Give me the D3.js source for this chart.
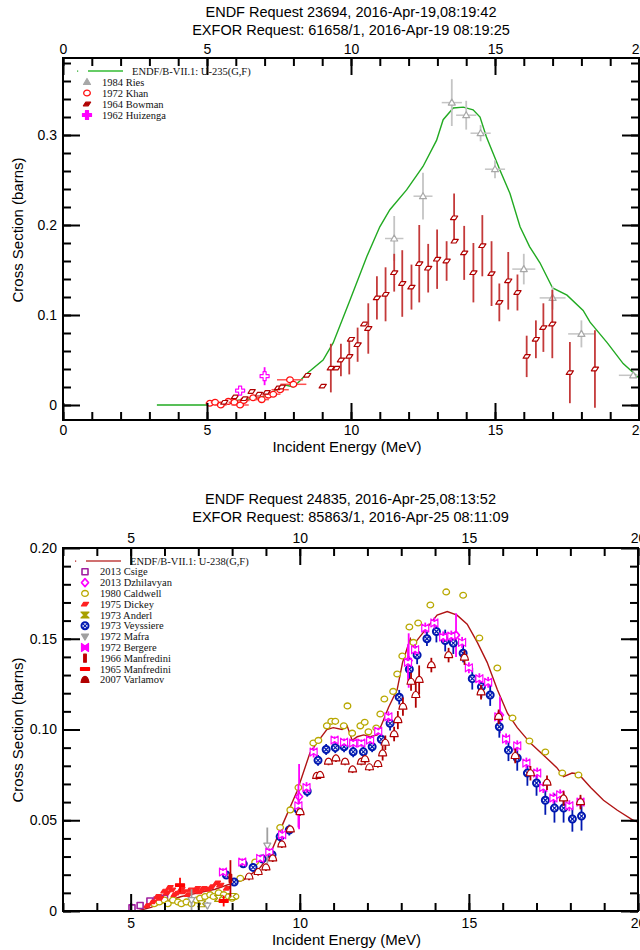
<!DOCTYPE html>
<html>
<head>
<meta charset="utf-8">
<script src="https://cdn.jsdelivr.net/npm/d3@7"></script>
<style>body{margin:0;background:#fff}</style>
</head>
<body>
<svg width="640" height="950"></svg>
<script>
// ---------- U-235 panel data ----------
const u235E = [3.26, 4.0, 5.0, 5.5, 6.15, 6.84, 7.2, 7.5, 7.75, 8.0, 8.23, 8.47, 9.03, 9.38, 9.97, 10.55, 11.0, 11.35, 11.93, 12.5, 12.97, 13.2, 13.55, 13.9, 14.24, 14.48, 14.7, 15.17, 15.52, 15.87, 16.2, 16.56, 17.0, 17.5, 18.06, 18.3, 18.9, 19.45, 19.9, 20];
const u235S = [0, 0, 0, 0.002, 0.0055, 0.008, 0.013, 0.019, 0.022, 0.02, 0.027, 0.035, 0.05, 0.069, 0.117, 0.165, 0.198, 0.217, 0.239, 0.265, 0.294, 0.317, 0.33, 0.331, 0.328, 0.32, 0.298, 0.261, 0.235, 0.198, 0.176, 0.158, 0.13, 0.122, 0.105, 0.092, 0.069, 0.046, 0.033, 0.03];

const riesE = [11.5, 12.5, 13.5, 14.0, 14.5, 15.0, 16.0, 17.0, 18.0, 19.8];
const riesS = [0.185, 0.232, 0.336, 0.322, 0.302, 0.262, 0.151, 0.119, 0.079, 0.033];
const riesErr = [0.025, 0.026, 0.026, 0.016, 0.009, 0.01, 0.017, 0.013, 0.015, 0.002];
const riesXErr = [0.32, 0.33, 0.35, 0.35, 0.35, 0.35, 0.4, 0.45, 0.46, 0.5];

const khanE = [5.1, 5.28, 5.48, 5.74, 5.95, 6.15, 6.28, 6.6, 6.9, 7.13, 7.3, 7.54, 7.88, 8.0];
const khanS = [0.002, 0.003, 0.0, 0.004, 0.003, 0.0, 0.005, 0.008, 0.006, 0.011, 0.012, 0.017, 0.028, 0.023];
const khanXErr = [0.15, 0.15, 0.2, 0.2, 0.2, 0.3, 0.2, 0.2, 0.25, 0.2, 0.25, 0.3, 0.45, 0.45];

const bowmanE = [5.6, 5.97, 6.3, 6.55, 6.8, 7.07, 7.47, 7.6, 8.48, 9.02, 9.3, 9.5, 9.65, 9.94, 10.0, 10.23, 10.46, 10.6, 10.9, 11.2, 11.5, 11.78, 12.1, 12.37, 12.68, 12.99, 13.32, 13.58, 13.6, 13.93, 14.25, 14.56, 14.88, 15.15, 15.46, 15.78, 16.1, 16.42, 16.68, 16.99, 17.6, 18.47];
const bowmanS = [0.003, 0.009, 0.007, 0.015, 0.012, 0.014, 0.019, 0.02, 0.033, 0.021, 0.041, 0.041, 0.05, 0.054, 0.073, 0.067, 0.09, 0.085, 0.119, 0.123, 0.147, 0.135, 0.131, 0.157, 0.152, 0.162, 0.160, 0.208, 0.182, 0.169, 0.147, 0.177, 0.146, 0.114, 0.138, 0.125, 0.054, 0.073, 0.086, 0.09, 0.036, 0.04];
const bowmanErr = [0, 0, 0, 0, 0, 0, 0, 0, 0, 0, 0.027, 0, 0.018, 0.02, 0, 0.019, 0, 0.028, 0.024, 0.03, 0.021, 0.037, 0.025, 0.043, 0.027, 0.033, 0.022, 0.027, 0, 0.03, 0.033, 0.034, 0.036, 0.021, 0.032, 0.02, 0.023, 0.021, 0.027, 0.038, 0.034, 0.043];

const huizengaE = [6.15, 7.0];
const huizengaS = [0.016, 0.032];
const huizengaErr = [0.004, 0.01];

// ---------- U-238 panel data ----------
const u238E = [3.5, 4.5, 5.2, 5.6, 6.0, 6.5, 7.0, 7.5, 8.03, 8.33, 8.83, 9.12, 9.5, 9.92, 10.3, 10.5, 10.8, 10.99, 11.25, 11.4, 11.55, 11.7, 11.89, 12.08, 12.29, 12.47, 12.62, 12.88, 13.04, 13.18, 13.27, 13.36, 13.46, 13.76, 14.06, 14.36, 14.65, 14.95, 15.25, 15.54, 15.84, 16.14, 16.43, 16.82, 17.2, 17.6, 17.8, 18.05, 18.24, 18.6, 18.98, 19.39, 19.86, 20];
const u238S = [0, 0, 0, 0.002, 0.005, 0.008, 0.01, 0.012, 0.0155, 0.017, 0.024, 0.031, 0.048, 0.066, 0.087, 0.0925, 0.1, 0.101, 0.1, 0.102, 0.094, 0.096, 0.097, 0.096, 0.097, 0.105, 0.112, 0.122, 0.137, 0.145, 0.150, 0.146, 0.149, 0.156, 0.163, 0.165, 0.163, 0.158, 0.148, 0.137, 0.122, 0.109, 0.101, 0.0925, 0.086, 0.079, 0.074, 0.076, 0.0755, 0.068, 0.061, 0.0555, 0.050, 0.049];

const csigeE = [5.04, 5.28, 5.57, 5.78, 6.0];
const csigeS = [0.0017, 0.003, 0.0055, 0.006, 0.007];

const dzhilE = [9.98, 13.22, 14.62, 15.92];
const dzhilS = [0.063, 0.138, 0.152, 0.108];
const dzhilErr = [0.018, 0.015, 0.012, 0.01];

const caldwellE = [5.7, 5.85, 6.0, 6.1, 6.25, 6.4, 6.5, 6.65, 6.8, 6.95, 7.05, 7.2, 7.35, 7.45, 7.6, 7.75, 7.9, 8.0, 8.1, 8.24, 8.68, 9.42, 9.72, 9.96, 10.4, 10.55, 10.8, 10.93, 11.05, 11.3, 11.41, 11.55, 11.79, 11.92, 12.03, 12.26, 12.38, 12.5, 12.76, 12.88, 13.03, 13.24, 13.36, 13.5, 13.86, 14.33, 14.83, 15.31, 15.84, 16.29, 16.79, 17.26, 17.76, 18.24];
const caldwellS = [0.004, 0.005, 0.006, 0.004, 0.006, 0.005, 0.004, 0.005, 0.004, 0.006, 0.007, 0.008, 0.009, 0.008, 0.010, 0.009, 0.008, 0.007, 0.008, 0.018, 0.027, 0.046, 0.0557, 0.068, 0.0926, 0.094, 0.102, 0.1045, 0.1045, 0.102, 0.113, 0.098, 0.102, 0.104, 0.0987, 0.1008, 0.1085, 0.1168, 0.121, 0.1306, 0.1405, 0.1565, 0.148, 0.1587, 0.1686, 0.1758, 0.174, 0.1504, 0.1339, 0.1063, 0.0937, 0.0876, 0.076, 0.0749];

const dickeyE = [5.5, 5.66, 5.8, 5.87, 6.0, 6.07, 6.15, 6.22, 6.3, 6.37, 6.5, 6.56, 6.7, 6.76, 6.9, 6.96, 7.05, 7.15, 7.3, 7.4, 7.55, 7.65, 7.85];
const dickeyS = [0.003, 0.005, 0.008, 0.007, 0.011, 0.0098, 0.013, 0.0116, 0.009, 0.0098, 0.012, 0.0106, 0.009, 0.0116, 0.011, 0.0125, 0.0105, 0.0125, 0.012, 0.0134, 0.0155, 0.0143, 0.0125];

const anderlE = [7.1, 7.6, 8.0];
const anderlS = [0.004, 0.007, 0.008];

const veyssE = [7.83, 8.06, 8.33, 8.62, 8.89, 9.18, 9.42, 9.69, 9.96, 10.22, 10.54, 10.78, 11.05, 11.31, 11.58, 11.88, 12.14, 12.41, 12.67, 12.94, 13.24, 13.47, 13.76, 14.04, 14.3, 14.54, 14.83, 15.1, 15.37, 15.63, 15.9, 16.17, 16.43, 16.73, 17.0, 17.26, 17.53, 17.8, 18.06, 18.33];
const veyssS = [0.0198, 0.016, 0.026, 0.024, 0.0287, 0.031, 0.041, 0.0446, 0.0557, 0.066, 0.083, 0.089, 0.09, 0.0905, 0.0877, 0.0877, 0.0905, 0.0946, 0.1034, 0.1178, 0.1332, 0.141, 0.150, 0.154, 0.149, 0.1476, 0.142, 0.128, 0.1235, 0.119, 0.1015, 0.0886, 0.0843, 0.076, 0.0705, 0.061, 0.0567, 0.0567, 0.0507, 0.0523];
const veyssErr = [0.002, 0.002, 0.002, 0.002, 0.002, 0.002, 0.003, 0.003, 0.003, 0.003, 0.003, 0.003, 0.003, 0.003, 0.003, 0.003, 0.003, 0.003, 0.004, 0.004, 0.006, 0.005, 0.004, 0.006, 0.006, 0.006, 0.005, 0.006, 0.006, 0.006, 0.006, 0.006, 0.007, 0.007, 0.007, 0.008, 0.008, 0.008, 0.007, 0.008];

const mafraE = [6.8, 7.27, 9.04];
const mafraS = [0.006, 0.003, 0.036];
const mafraErr = [0.006, 0.002, 0.01];

const bergereE = [7.73, 8.3, 8.83, 9.1, 9.48, 9.96, 10.2, 10.41, 11.03, 11.31, 11.58, 11.82, 12.08, 12.32, 12.62, 13.2, 13.41, 13.71, 13.98, 14.24, 14.48, 14.8, 15.0, 15.31, 15.57, 15.87, 16.1, 16.43, 16.7, 17.02, 17.2, 17.5, 17.7, 17.97, 18.3];
const bergereS = [0.0215, 0.027, 0.029, 0.0325, 0.042, 0.058, 0.068, 0.0876, 0.0942, 0.093, 0.0925, 0.0925, 0.0942, 0.099, 0.107, 0.137, 0.144, 0.1559, 0.1587, 0.151, 0.1515, 0.148, 0.134, 0.128, 0.126, 0.107, 0.0948, 0.091, 0.0815, 0.076, 0.068, 0.0623, 0.064, 0.058, 0.060];
const bergereErr = [0.002, 0.002, 0.002, 0.002, 0.003, 0.012, 0.003, 0.003, 0.002, 0.002, 0.002, 0.002, 0.002, 0.002, 0.003, 0.01, 0.003, 0.003, 0.003, 0.003, 0.003, 0.003, 0.003, 0.003, 0.003, 0.003, 0.003, 0.003, 0.003, 0.003, 0.003, 0.003, 0.003, 0.003, 0.003];

const manf66E = [7.95];
const manf66S = [0.018];
const manf66Err = [0.01];

const manf65E = [6.46, 7.75];
const manf65S = [0.0143, 0.0055];
const manf65Err = [0.004, 0.003];

const varlamovE = [8.5, 8.77, 9.0, 9.2, 9.47, 9.72, 10.01, 10.5, 10.6, 10.85, 11.07, 11.34, 11.56, 11.82, 11.93, 12.06, 12.31, 12.45, 12.53, 12.79, 12.9, 13.05, 13.29, 13.43, 13.53, 13.89, 14.4, 14.87, 15.36, 15.88, 16.37, 16.82, 17.31, 17.8, 18.3];
const varlamovS = [0.019, 0.0215, 0.024, 0.029, 0.0367, 0.045, 0.0545, 0.0744, 0.075, 0.0823, 0.0841, 0.0823, 0.078, 0.0823, 0.0837, 0.0792, 0.081, 0.0869, 0.0927, 0.0975, 0.1052, 0.1126, 0.1263, 0.119, 0.1273, 0.1355, 0.141, 0.1396, 0.1205, 0.107, 0.0854, 0.0759, 0.0707, 0.062, 0.060];
const varlamovErr = [0.002, 0.002, 0.002, 0.002, 0.002, 0.002, 0.002, 0.002, 0.002, 0.002, 0.002, 0.002, 0.002, 0.002, 0.002, 0.002, 0.002, 0.004, 0.004, 0.004, 0.005, 0.005, 0.005, 0.007, 0.008, 0.004, 0.004, 0.004, 0.004, 0.004, 0.004, 0.004, 0.004, 0.004, 0.004];

// tick labels
const topXTicks = [0, 5, 10, 15, 20];
const topYTicks = [0, 0.1, 0.2, 0.3];
const topYLabels = ["0", "0.1", "0.2", "0.3"];
const botXTicks = [5, 10, 15, 20];
const botYTicks = [0, 0.05, 0.1, 0.15, 0.2];
const botYLabels = ["0", "0.05", "0.10", "0.15", "0.20"];

const svg = d3.select("svg");
const sans = "'Liberation Sans', Arial, sans-serif";
const serif = "'Liberation Serif', 'Times New Roman', serif";

const shapes = {
  tri: "M0,-3.5L3.5,2.5L-3.5,2.5Z",
  triDown: "M0,3.5L3.5,-2.5L-3.5,-2.5Z",
  para: "M-3.6,1.8L-1.3,-1.8L3.6,-1.8L1.3,1.8Z",
  hourglass: "M-4,-3L4,-3L1,0L4,3L-4,3L-1,0Z",
  bowtie: "M-3.5,-4L0,-1.5L3.5,-4L3.5,4L0,1.5L-3.5,4Z",
  plus: "M-1.5,-4.5H1.5V-1.5H4.5V1.5H1.5V4.5H-1.5V1.5H-4.5V-1.5H-1.5Z",
  vbar: "M-1.3,-4H1.3V4H-1.3Z",
  hbar: "M-4.5,-1.3H4.5V1.3H-4.5Z",
  square: "M-3,-3H3V3H-3Z",
  diamond: "M0,-4L3.5,0L0,4L-3.5,0Z",
  dome: "M-4,2.5Q-3,-3.5 0,-3.5Q3,-3.5 4,2.5Z"
};

function marker(g, shape, color, filled, sw) {
  if (shape === "circle") {
    g.append("ellipse").attr("rx", 3.3).attr("ry", 2.9)
      .attr("fill", filled ? color : "#fff").attr("stroke", color).attr("stroke-width", sw || 1.3);
  } else if (shape === "gear") {
    g.append("circle").attr("r", 3.5).attr("fill", "#fff").attr("stroke", color).attr("stroke-width", 2);
    g.append("path").attr("d", "M-2,-2L2,2M2,-2L-2,2").attr("stroke", color).attr("stroke-width", 1.2);
  } else {
    g.append("path").attr("d", shapes[shape])
      .attr("fill", filled ? color : "#fff").attr("stroke", color).attr("stroke-width", sw || 1.2)
      .attr("stroke-linejoin", "round");
  }
}

function panel(p) {
  const x = d3.scaleLinear().domain(p.xDomain).range([p.left, p.right]);
  const y = d3.scaleLinear().domain(p.yDomain).range([p.bottom, p.top]);
  const g = svg.append("g");

  // titles
  p.titles.forEach((t, i) => {
    g.append("text").attr("x", (p.left + p.right) / 2).attr("y", p.titleY + i * 18)
      .attr("text-anchor", "middle").attr("font-family", sans).attr("font-size", 14.5).text(t);
  });

  const clipId = "clip" + p.id;
  svg.append("clipPath").attr("id", clipId).append("rect")
    .attr("x", p.left).attr("y", p.top).attr("width", p.right - p.left).attr("height", p.bottom - p.top);
  const plot = g.append("g").attr("clip-path", `url(#${clipId})`);

  // evaluated curve
  const line = d3.line().x(d => x(d[0])).y(d => y(d[1]));
  plot.append("path").datum(d3.zip(p.curveE, p.curveS)).attr("d", line)
    .attr("fill", "none").attr("stroke", p.curveColor).attr("stroke-width", 1.4);

  // experimental series
  p.series.forEach(s => {
    const sg = plot.append("g");
    s.E.forEach((e, i) => {
      const cx = x(e), cy = y(s.S[i]);
      const ec = s.errColor || s.color;
      if (s.xerr && s.xerr[i]) {
        sg.append("line").attr("x1", x(e - s.xerr[i])).attr("x2", x(e + s.xerr[i]))
          .attr("y1", cy).attr("y2", cy).attr("stroke", ec).attr("stroke-width", 1.5);
      }
      if (s.err && s.err[i]) {
        sg.append("line").attr("x1", cx).attr("x2", cx)
          .attr("y1", y(s.S[i] - s.err[i])).attr("y2", y(s.S[i] + s.err[i]))
          .attr("stroke", ec).attr("stroke-width", 1.8);
      }
      marker(sg.append("g").attr("transform", `translate(${cx},${cy})`), s.shape, s.color, s.plotFill, s.sw);
    });
  });

  // axes: ticks point inward
  const minorX = d3.range(p.xDomain[0], p.xDomain[1] + 0.001, 1);
  const minorY = d3.range(p.yMinorStart, p.yDomain[1], p.yMinorStep);
  const axes = [
    [d3.axisBottom(x).tickValues(p.xTicks).tickSize(-17).tickPadding(p.xPadB).tickFormat(d3.format("d")), `translate(0,${p.bottom})`],
    [d3.axisBottom(x).tickValues(minorX).tickSize(-8).tickFormat(""), `translate(0,${p.bottom})`],
    [d3.axisTop(x).tickValues(p.xTicks).tickSize(-17).tickPadding(p.xPadT).tickFormat(d3.format("d")), `translate(0,${p.top})`],
    [d3.axisTop(x).tickValues(minorX).tickSize(-8).tickFormat(""), `translate(0,${p.top})`],
    [d3.axisLeft(y).tickValues(p.yTicks).tickSize(-17).tickPadding(6).tickFormat((d, i) => p.yLabels[i]), `translate(${p.left},0)`],
    [d3.axisLeft(y).tickValues(minorY).tickSize(-8).tickFormat(""), `translate(${p.left},0)`],
    [d3.axisRight(y).tickValues(p.yTicks).tickSize(-17).tickFormat(""), `translate(${p.right},0)`],
    [d3.axisRight(y).tickValues(minorY).tickSize(-8).tickFormat(""), `translate(${p.right},0)`]
  ];
  axes.forEach(([ax, tr]) => {
    const a = g.append("g").attr("transform", tr).call(ax);
    a.select(".domain").remove();
    a.selectAll("line").attr("stroke", "#000").attr("stroke-width", 2);
    a.selectAll("text").attr("font-family", sans).attr("font-size", 14).attr("fill", "#000");
  });

  g.append("rect").attr("x", p.left).attr("y", p.top)
    .attr("width", p.right - p.left).attr("height", p.bottom - p.top)
    .attr("fill", "none").attr("stroke", "#000").attr("stroke-width", 2);

  // axis titles
  g.append("text").attr("x", (p.left + p.right) / 2 - 4).attr("y", p.xTitleY)
    .attr("text-anchor", "middle").attr("font-family", sans).attr("font-size", 15).text("Incident Energy (MeV)");
  g.append("text").attr("transform", `translate(23,${p.yTitleY}) rotate(-90)`)
    .attr("text-anchor", "middle").attr("font-family", sans).attr("font-size", 15).text("Cross Section (barns)");

  // legend
  const lg = g.append("g").attr("font-family", serif).attr("font-size", 10.5).attr("fill", "#111");
  lg.append("rect").attr("x", p.legX - 8).attr("y", p.legY - 0.5).attr("width", 1.2).attr("height", 1.2).attr("fill", p.curveColor);
  lg.append("line").attr("x1", p.legX + 3).attr("x2", p.legX + 38).attr("y1", p.legY).attr("y2", p.legY)
    .attr("stroke", p.legLineColor).attr("stroke-width", 2);
  lg.append("text").attr("x", p.legX + 47).attr("y", p.legY + 3.5).text(p.curveName);
  p.series.forEach((s, i) => {
    const yy = p.legY + p.legStep * (i + 1);
    marker(lg.append("g").attr("transform", `translate(${p.legX + 2},${yy})`), s.shape, s.color, s.legFill, s.sw);
    lg.append("text").attr("x", p.legX + 17).attr("y", yy + 3.5).text(s.name);
  });
}

panel({
  id: 1, left: 63, right: 639, top: 58, bottom: 420,
  xDomain: [0, 20], yDomain: [-0.01667, 0.38556],
  xTicks: topXTicks, yTicks: topYTicks, yLabels: topYLabels,
  yMinorStart: 0, yMinorStep: 0.02, xPadB: 5, xPadT: 4,
  titles: ["ENDF Request 23694, 2016-Apr-19,08:19:42", "EXFOR Request: 61658/1, 2016-Apr-19 08:19:25"],
  titleY: 17, xTitleY: 452, yTitleY: 230,
  curveE: u235E, curveS: u235S, curveColor: "#22aa22", legLineColor: "#66cc66",
  curveName: "ENDF/B-VII.1: U-235(G,F)", legX: 85, legY: 71, legStep: 11,
  series: [
    { name: "1984 Ries", E: riesE, S: riesS, err: riesErr, xerr: riesXErr, shape: "tri", color: "#a8a8a8", errColor: "#c4c4c4", legFill: true, plotFill: false },
    { name: "1972 Khan", E: khanE, S: khanS, xerr: khanXErr, shape: "circle", color: "#ff1010", errColor: "#ff5050", legFill: false, plotFill: false, sw: 1.3 },
    { name: "1964 Bowman", E: bowmanE, S: bowmanS, err: bowmanErr, shape: "para", color: "#b00000", errColor: "#c43a3a", legFill: true, plotFill: false },
    { name: "1962 Huizenga", E: huizengaE, S: huizengaS, err: huizengaErr, shape: "plus", color: "#ff00ff", legFill: true, plotFill: false }
  ]
});

panel({
  id: 2, left: 63, right: 638, top: 548, bottom: 911,
  xDomain: [3, 20], yDomain: [0, 0.2],
  xTicks: botXTicks, yTicks: botYTicks, yLabels: botYLabels,
  yMinorStart: 0, yMinorStep: 0.01, xPadB: 7, xPadT: 5,
  titles: ["ENDF Request 24835, 2016-Apr-25,08:13:52", "EXFOR Request: 85863/1, 2016-Apr-25 08:11:09"],
  titleY: 504, xTitleY: 945, yTitleY: 730,
  curveE: u238E, curveS: u238S, curveColor: "#b01414", legLineColor: "#d07070",
  curveName: "ENDF/B-VII.1: U-238(G,F)", legX: 83, legY: 561, legStep: 10.8,
  series: [
    { name: "2013 Csige", E: csigeE, S: csigeS, shape: "square", color: "#a020a0", legFill: false, plotFill: false, sw: 1.6 },
    { name: "2013 Dzhilavyan", E: dzhilE, S: dzhilS, err: dzhilErr, shape: "diamond", color: "#ff00ff", legFill: false, plotFill: false, sw: 1.6 },
    { name: "1980 Caldwell", E: caldwellE, S: caldwellS, shape: "circle", color: "#b8a800", legFill: false, plotFill: false, sw: 1.3 },
    { name: "1975 Dickey", E: dickeyE, S: dickeyS, shape: "para", color: "#ff2020", legFill: true, plotFill: true },
    { name: "1973 Anderl", E: anderlE, S: anderlS, shape: "hourglass", color: "#a8a000", legFill: true, plotFill: false },
    { name: "1973 Veyssiere", E: veyssE, S: veyssS, err: veyssErr, shape: "gear", color: "#0018b0", legFill: true, plotFill: false },
    { name: "1972 Mafra", E: mafraE, S: mafraS, err: mafraErr, shape: "triDown", color: "#a0a0a0", legFill: true, plotFill: false },
    { name: "1972 Bergere", E: bergereE, S: bergereS, err: bergereErr, shape: "bowtie", color: "#ff00ff", legFill: true, plotFill: false },
    { name: "1966 Manfredini", E: manf66E, S: manf66S, err: manf66Err, shape: "vbar", color: "#c00000", legFill: true, plotFill: true },
    { name: "1965 Manfredini", E: manf65E, S: manf65S, err: manf65Err, shape: "hbar", color: "#ff0000", legFill: true, plotFill: true },
    { name: "2007 Varlamov", E: varlamovE, S: varlamovS, err: varlamovErr, shape: "dome", color: "#b00000", legFill: true, plotFill: false }
  ]
});
</script>
</body>
</html>
